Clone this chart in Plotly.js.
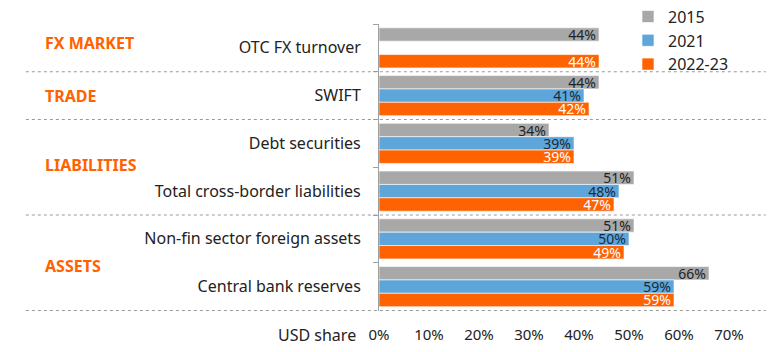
<!DOCTYPE html>
<html><head><meta charset="utf-8">
<script src="https://cdn.plot.ly/plotly-3.0.1.min.js"></script>
<style>html,body{margin:0;padding:0;background:#fff}</style>
</head><body><div id="chart" style="width:781px;height:352px"></div>
<script>
const categories = ["OTC FX turnover","SWIFT","Debt securities","Total cross-border liabilities","Non-fin sector foreign assets","Central bank reserves"];
const seriesNames = ["2015","2021","2022-23"];
const v2015 = [44,44,34,51,51,66];
const v2021 = [null,41,39,48,50,59];
const v2022 = [44,42,39,47,49,59];
const sections = ["FX MARKET","TRADE","LIABILITIES","ASSETS"];
const sectionPos = [-0.1, 1.0, 2.45, 4.56];
const separators = [0.5,1.5,3.5,5.5];
const xTicks = [0,10,20,30,40,50,60,70];

const colors = ["#a8a8a8","#5ea6da","#ff6200"];
const textColors = ["#222","#1b2a3a","#ffffff"];
const vals = [v2015,v2021,v2022];
const font = "Noto Sans, sans-serif";

const traces = vals.map((v,i)=>({
  type:"bar", orientation:"h", name:seriesNames[i],
  y:categories, x:v,
  marker:{color:colors[i], line:{color:"rgba(255,255,255,0.6)", width:1}},
  text:v.map(d=>d==null?"":d+"%"), textposition:"inside", insidetextanchor:"end",
  textfont:{color:textColors[i], size:14, family:font},
  constraintext:"none", cliponaxis:false, hoverinfo:"skip"
}));

const shapes = separators.map(s=>({
  type:"line", xref:"paper", yref:"y", x0:-1.009, x1:1.105, y0:s, y1:s,
  line:{color:"#9a9a9a", width:1, dash:"dot"}
}));

const annotations = sections.map((s,i)=>({
  text:"<b>"+s+"</b>", xref:"paper", yref:"y", x:(43-379)/350, y:sectionPos[i],
  xanchor:"left", yanchor:"middle", showarrow:false,
  font:{color:"#ff6200", size:16, family:font}
}));
annotations.push({text:"USD share", xref:"paper", yref:"paper", x:(358-379)/350, y:-0.085,
  xanchor:"right", yanchor:"middle", showarrow:false, font:{color:"#222", size:16, family:font}});

const layout = {
  width:781, height:352,
  margin:{l:379, r:52, t:24, b:41, autoexpand:false},
  barmode:"group", bargap:0.16, bargroupgap:0,
  paper_bgcolor:"#fff", plot_bgcolor:"#fff",
  showlegend:true,
  legend:{x:(628-379)/350, y:1.085, xanchor:"left", yanchor:"top", traceorder:"normal",
    font:{size:16, color:"#222", family:font}, itemwidth:30, tracegroupgap:0, bgcolor:"rgba(0,0,0,0)"},
  xaxis:{range:[0,70], tickvals:xTicks, ticktext:xTicks.map(t=>t+"%"), showgrid:false, zeroline:false,
    showline:false, ticks:"", tickfont:{size:15, color:"#222", family:font}, ticklabelstandoff:13, fixedrange:true},
  yaxis:{type:"category", autorange:"reversed", showgrid:false, showline:true, linecolor:"#a0a0a0", linewidth:1,
    ticks:"outside", tickson:"boundaries", ticklen:5, tickcolor:"#a0a0a0",
    tickfont:{size:16, color:"#222", family:font}, ticklabelstandoff:14, fixedrange:true},
  shapes:shapes, annotations:annotations
};
Plotly.newPlot("chart", traces, layout, {displayModeBar:false, staticPlot:true});
</script></body></html>
